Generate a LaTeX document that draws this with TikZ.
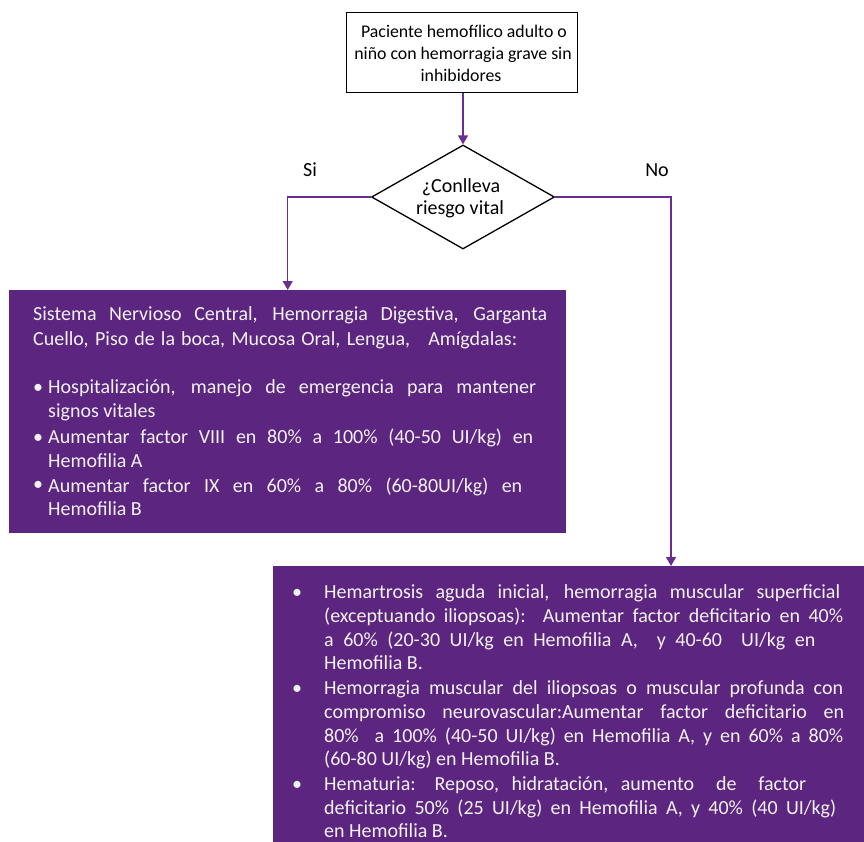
\documentclass[tikz,border=0pt]{standalone}
\usepackage{fontspec}
\setmainfont{Carlito}
\usetikzlibrary{shapes.geometric,arrows.meta}
\definecolor{pur}{HTML}{5C2580}
\definecolor{lin}{HTML}{6B2D93}
\definecolor{txt}{HTML}{F2F2F2}
\begin{document}
\begin{tikzpicture}[x=1pt,y=-1pt,
  arr/.style={draw=lin,line width=1.4pt,-{Triangle[length=9pt,width=10pt]}},
  pbox/.style={fill=pur,draw=none,anchor=north west,inner sep=0pt},
  wl/.style={anchor=base west,inner sep=0pt,text=txt,font=\fontsize{20}{24}\selectfont},
  bul/.style={anchor=base,inner sep=0pt,text=txt,font=\fontsize{20}{24}\selectfont},
  bk/.style={anchor=base,inner sep=0pt,text=black,font=\fontsize{20}{24}\selectfont},
  tk/.style={anchor=base,inner sep=0pt,text=black,font=\fontsize{17.8}{22}\selectfont}
]
\useasboundingbox (0,0) rectangle (864,842);

% top box
\node[draw=black,line width=1.3pt,anchor=north west,minimum width=231pt,minimum height=80pt,inner sep=0pt] (t) at (346,12) {};
\node[tk] (t1) at (464,38) {Paciente hemofílico adulto o};
\node[tk] (t2) at (463,60) {niño con hemorragia grave sin};
\node[tk] (t3) at (461,82) {inhibidores};

% diamond
\node[draw=black,line width=1.3pt,shape=diamond,minimum width=183pt,minimum height=104pt,inner sep=0pt] (d) at (463,197) {};
\node[bk] (d1) at (461,193) {¿Conlleva};
\node[bk] (d2) at (460,215) {riesgo vital};

\node[bk] (si) at (310,177) {Si};
\node[bk] (no) at (657,177) {No};

% left box
\node[pbox,minimum width=557pt,minimum height=243pt] (L) at (9,290) {};
\node[wl] (a1) at (33,320) {\makebox[514pt][s]{Sistema Nervioso Central, Hemorragia Digestiva, Garganta}};
\node[wl] (a2) at (33,345) {\makebox[484pt][s]{Cuello, Piso de la boca, Mucosa Oral, Lengua,\ \ \ Amígdalas:}};
\node[bul] (b1) at (38,393) {•};
\node[wl] (a3) at (48,393) {\makebox[488pt][s]{Hospitalización, manejo de emergencia para mantener}};
\node[wl] (a4) at (48,417) {signos vitales};
\node[bul] (b2) at (38,443) {•};
\node[wl] (a5) at (48,443) {\makebox[485pt][s]{Aumentar factor VIII en 80\% a 100\% (40-50 UI/kg) en}};
\node[wl] (a6) at (48,467) {Hemofilia A};
\node[bul] (b3) at (38,490) {•};
\node[wl] (a7) at (48,492) {\makebox[474pt][s]{Aumentar factor IX en 60\% a 80\% (60-80UI/kg) en}};
\node[wl] (a8) at (48,515) {Hemofilia B};

% right box
\node[pbox,minimum width=600pt,minimum height=290pt] (R) at (273,566) {};
\node[bul] (c1) at (297,598) {•};
\node[wl] (r1) at (324,598) {\makebox[516pt][s]{Hemartrosis aguda inicial, hemorragia muscular superficial}};
\node[wl] (r2) at (324,622) {\makebox[519pt][s]{(exceptuando iliopsoas):\ \ Aumentar factor deficitario en 40\%}};
\node[wl] (r3) at (324,646) {\makebox[491pt][s]{a 60\% (20-30 UI/kg en Hemofilia A,\ \ y 40-60\ \ UI/kg en}};
\node[wl] (r4) at (324,669) {Hemofilia B.};
\node[bul] (c2) at (297,694) {•};
\node[wl] (r5) at (324,694) {\makebox[519pt][s]{Hemorragia muscular del iliopsoas o muscular profunda con}};
\node[wl] (r6) at (324,718) {\makebox[520pt][s]{compromiso neurovascular:Aumentar factor deficitario en}};
\node[wl] (r7) at (324,742) {\makebox[519pt][s]{80\%\ \ a 100\% (40-50 UI/kg) en Hemofilia A, y en 60\% a 80\%}};
\node[wl] (r8) at (324,765) {(60-80 UI/kg) en Hemofilia B.};
\node[bul] (c3) at (297,790) {•};
\node[wl] (r9) at (324,790) {\makebox[482pt][s]{Hematuria: Reposo, hidratación, aumento\ \ de\ \ factor}};
\node[wl] (r10) at (324,814) {\makebox[512pt][s]{deficitario 50\% (25 UI/kg) en Hemofilia A, y 40\% (40 UI/kg)}};
\node[wl] (r11) at (324,837) {en Hemofilia B.};

% connectors
\coordinate (nx) at (671,0);
\draw[arr] (d.north |- t.south) -- (d.north);
\draw[arr] (d.west) -| (L.north);
\draw[arr] (d.east) -| (nx |- R.north);
\end{tikzpicture}
\end{document}
